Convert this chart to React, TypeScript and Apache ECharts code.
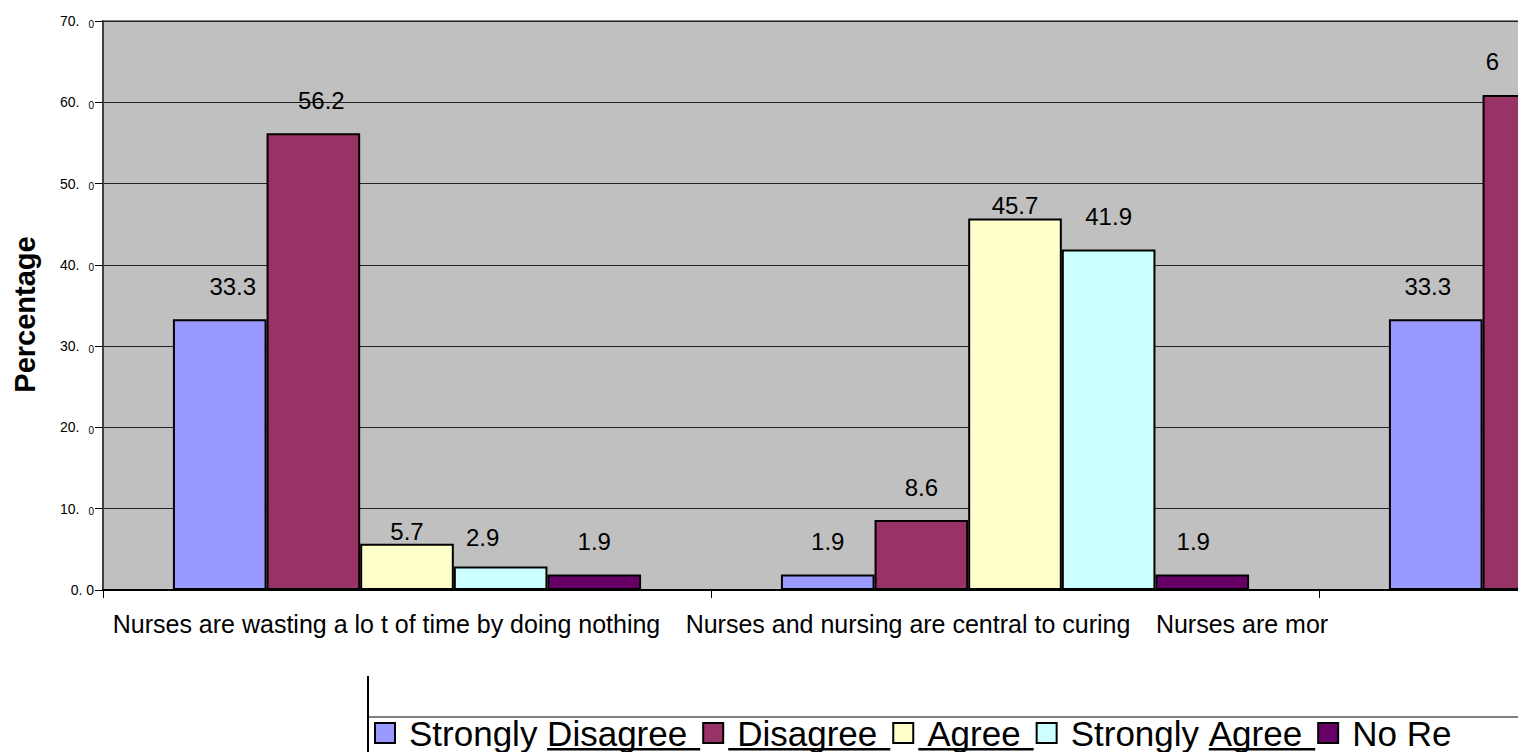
import { useEffect, useRef } from "react";
import * as echarts from "echarts";

// ---- data ----
const categories = [
  "Nurses are wasting a lo t of time by doing nothing",
  "Nurses and nursing are central to curing",
  "Nurses are mor",
];
const seriesNames = ["Strongly Disagree", "Disagree", "Agree", "Strongly Agree", "No Re"];
const stronglyDisagreeValues: (number | null)[] = [33.3, 1.9, 33.3];
const disagreeValues: (number | null)[] = [56.2, 8.6, 60.9];
const agreeValues: (number | null)[] = [5.7, 45.7, null];
const stronglyAgreeValues: (number | null)[] = [2.9, 41.9, null];
const noResponseValues: (number | null)[] = [1.9, 1.9, null];
const yTickLabels = ["0. 0", "10. 0", "20. 0", "30. 0", "40. 0", "50. 0", "60. 0", "70. 0"];
const seriesColors = ["#9999FF", "#993366", "#FFFFCC", "#CCFFFF", "#660066"];

const FONT = 'Arial, "Liberation Sans", Helvetica, sans-serif';

export default function App() {
  const ref = useRef<HTMLDivElement>(null);

  useEffect(() => {
    if (!ref.current) return;
    const chart = echarts.init(ref.current, undefined, { renderer: "svg" });
    const values = [stronglyDisagreeValues, disagreeValues, agreeValues, stronglyAgreeValues, noResponseValues];

    // small nudges [dx, dy] of individual value labels, as in the reference
    const labelShift: Record<string, [number, number]> = {
      "0-0": [13, 0],
      "1-0": [8, 0],
      "2-0": [0, 1],
      "3-0": [-18, 4],
      "4-1": [-9, 0],
      "0-2": [-8, 0],
    };

    const underline = {
      type: "linear",
      x: 0,
      y: 0,
      x2: 0,
      y2: 1,
      colorStops: [
        { offset: 0, color: "rgba(0,0,0,0)" },
        { offset: 0.93, color: "rgba(0,0,0,0)" },
        { offset: 0.93, color: "#000" },
        { offset: 1, color: "#000" },
      ],
    };

    const series = seriesNames.map((name, si) => ({
      name,
      type: "bar",
      barGap: "0%",
      barCategoryGap: "23%",
      itemStyle: { color: seriesColors[si], borderColor: "#000", borderWidth: 2 },
      label: {
        show: true,
        position: "top",
        distance: si === 2 ? 1 : 21,
        fontSize: 24,
        color: "#000",
        fontFamily: FONT,
      },
      data: values[si].map((v, ci) => {
        const item: any = { value: v };
        const shift = labelShift[`${si}-${ci}`];
        if (shift) item.label = { offset: shift };
        if (si === 1 && ci === 2) {
          item.label = { offset: [-37, 0], width: 16, overflow: "truncate", ellipsis: "" };
        }
        return item;
      }),
    }));

    const labelPad = [41, 214, 762];
    const legendFont = { fontSize: 35, lineHeight: 36, color: "#000", fontFamily: FONT };

    chart.setOption({
      animation: false,
      textStyle: { fontFamily: FONT },
      grid: {
        left: 103,
        right: 33,
        top: 21,
        bottom: 162,
        show: true,
        backgroundColor: "#C0C0C0",
        borderColor: "#808080",
        borderWidth: 2,
        containLabel: false,
        outerBoundsMode: "none",
      },
      legend: {
        left: 374,
        top: 715,
        padding: 0,
        orient: "horizontal",
        itemWidth: 20,
        itemHeight: 20,
        itemGap: 2,
        icon: "rect",
        selectedMode: false,
        data: seriesNames,
        itemStyle: { borderColor: "#000", borderWidth: 2 },
        formatter: (name: string) => {
          const m = name.match(/^(.*?)(Disagree|Agree)$/);
          if (!m) return `{p|${name}}`;
          if (!m[1]) return `{ul|${m[2]}}`;
          return `{p|${m[1]}}{u|${m[2]}}`;
        },
        textStyle: {
          ...legendFont,
          rich: {
            p: { ...legendFont, padding: [0, 0, 0, 9] },
            u: { ...legendFont, padding: [0, 13, 0, 0], backgroundColor: underline },
            ul: { ...legendFont, padding: [0, 13, 0, 9], backgroundColor: underline },
          },
        },
      },
      graphic: [
        {
          type: "line",
          silent: true,
          shape: { x1: 368, y1: 717, x2: 1960, y2: 717 },
          style: { stroke: "#808080", lineWidth: 2 },
        },
        {
          type: "line",
          silent: true,
          shape: { x1: 368, y1: 676, x2: 368, y2: 752 },
          style: { stroke: "#000", lineWidth: 2 },
        },
      ],
      xAxis: {
        type: "category",
        data: categories,
        axisLine: { show: true, lineStyle: { color: "#000", width: 2 } },
        axisTick: { show: true, length: 8, lineStyle: { color: "#000", width: 1 } },
        splitLine: { show: false },
        axisLabel: {
          interval: 0,
          margin: 21,
          color: "#000",
          fontSize: 25,
          fontFamily: FONT,
          formatter: (v: string, i: number) => `{c${i}|${v}}`,
          rich: {
            c0: { fontSize: 25, lineHeight: 25, color: "#000", fontFamily: FONT, padding: [0, labelPad[0], 0, 0] },
            c1: { fontSize: 25, lineHeight: 25, color: "#000", fontFamily: FONT, padding: [0, labelPad[1], 0, 0] },
            c2: { fontSize: 25, lineHeight: 25, color: "#000", fontFamily: FONT, padding: [0, labelPad[2], 0, 0] },
          },
        },
      },
      yAxis: {
        type: "value",
        min: 0,
        max: 70,
        interval: 10,
        name: "Percentage",
        nameLocation: "middle",
        nameRotate: 90,
        nameGap: 64,
        nameTextStyle: {
          fontSize: 29,
          fontWeight: "bold",
          color: "#000",
          fontFamily: FONT,
          padding: [0, 18, 0, 0],
        },
        axisLine: { show: true, lineStyle: { color: "#404040", width: 2 } },
        axisTick: { show: true, length: 8, lineStyle: { color: "#000", width: 1 } },
        splitLine: { show: true, lineStyle: { color: "#222", width: 1 } },
        axisLabel: {
          margin: 9,
          color: "#000",
          formatter: (v: number) => {
            const lbl = yTickLabels[Math.round(v / 10)] ?? "";
            if (v === 0) return `{a|${lbl}}`;
            const [p, q] = lbl.split(" ");
            return `{a|${p}}{b|${q}}`;
          },
          rich: {
            a: { fontSize: 14, lineHeight: 16, color: "#000", fontFamily: FONT },
            b: { fontSize: 10, lineHeight: 16, color: "#000", fontFamily: FONT, padding: [0, 0, 0, 9], verticalAlign: "bottom" },
          },
        },
      },
      series,
    } as any);

    return () => {
      chart.dispose();
    };
  }, []);

  return (
    <div
      style={{
        position: "fixed",
        left: 0,
        top: 0,
        width: 1518,
        height: 752,
        overflow: "hidden",
        background: "#fff",
      }}
    >
      <div ref={ref} style={{ width: 1960, height: 752 }} />
    </div>
  );
}
